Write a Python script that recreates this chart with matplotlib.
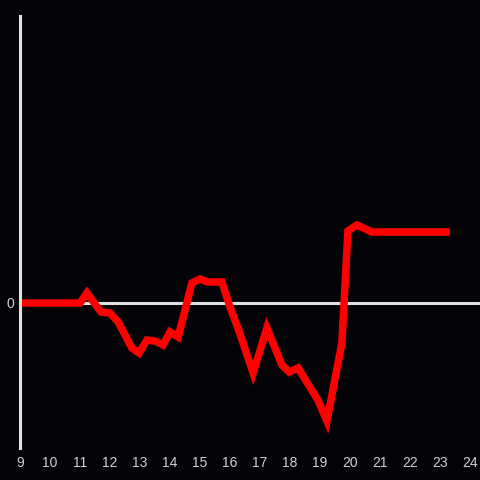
import matplotlib
matplotlib.use('Agg')
import matplotlib.pyplot as plt

# hour of day and value
hours = [9.0, 11.0, 11.23, 11.7, 12.0, 12.27, 12.73, 12.97, 13.23, 13.5, 13.77,
         14.0, 14.27, 14.73, 15.0, 15.27, 15.73, 16.0, 16.3, 16.77, 17.23,
         17.73, 17.97, 18.27, 18.93, 19.23, 19.73, 19.93, 20.23, 20.73, 23.33]
values = [0, 0, 10, -9, -10, -19, -45, -50, -37, -38, -42,
          -29, -34, 20, 24, 21, 21, -4, -28, -70, -25,
          -62, -69, -65, -97, -118, -40, 72, 78, 71, 71]
xticks = list(range(9, 25))

bg = '#040307'
fig = plt.figure(figsize=(4.8, 4.8), dpi=100, facecolor=bg)
ax = fig.add_axes([20/480, 32/480, 460/480, 432/480], facecolor=bg)

ax.axhline(0, color='#e0e0e0', lw=2.2, zorder=1)
ax.plot(hours, values, color='#ff0000', lw=5.4, solid_joinstyle='miter',
        solid_capstyle='butt', zorder=2)

ax.set_xlim(9, 24.333)
ax.set_ylim(-145, 287)
ax.set_xticks(xticks)
ax.set_yticks([0])
ax.tick_params(length=0, colors='#d0d0d0', labelsize=10, pad=6)
ax.tick_params(axis='y', pad=4)
for lab in ax.get_xticklabels() + ax.get_yticklabels():
    lab.set_fontfamily('Liberation Sans')

for s in ['top', 'right', 'bottom']:
    ax.spines[s].set_visible(False)
ax.spines['left'].set_color('#e0e0e0')
ax.spines['left'].set_linewidth(2.2)

fig.savefig('out.png', dpi=100, facecolor=bg)
